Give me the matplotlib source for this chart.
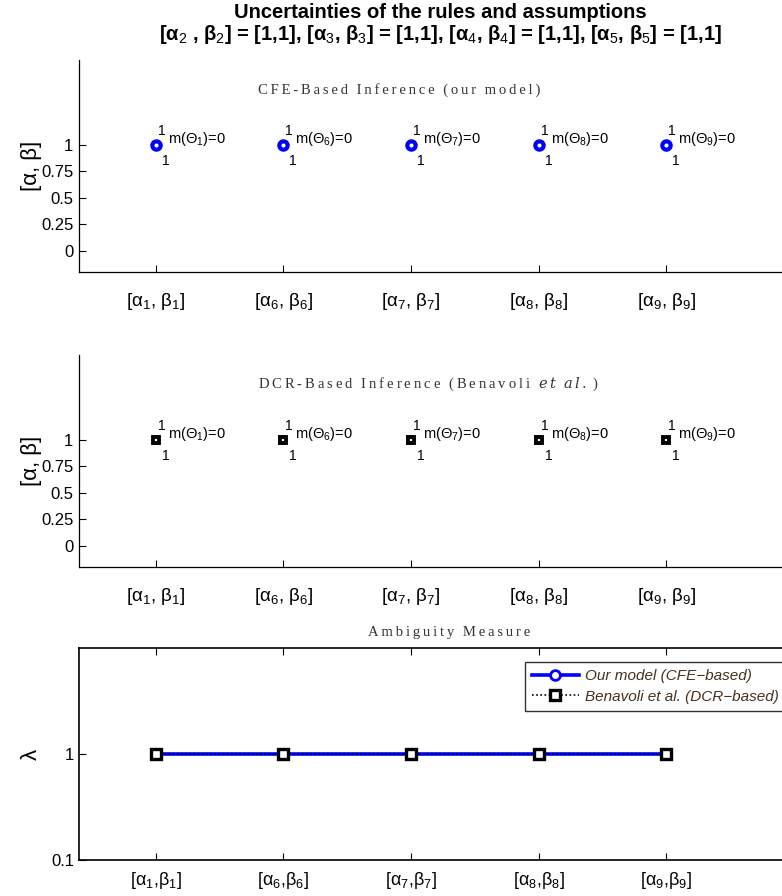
import matplotlib
matplotlib.use("Agg")
import matplotlib.pyplot as plt
import numpy as np

plt.rcParams['font.family'] = ['Liberation Sans', 'DejaVu Sans']
plt.rcParams['mathtext.fontset'] = 'custom'
plt.rcParams['mathtext.rm'] = 'Liberation Sans'
plt.rcParams['mathtext.it'] = 'Liberation Sans:italic'
plt.rcParams['mathtext.bf'] = 'Liberation Sans:bold'

# ---------------- data ----------------
rule_ids = [1, 6, 7, 8, 9]
top_labels = ['[α$_{%d}$, β$_{%d}$]' % (i, i) for i in rule_ids]
bottom_labels = ['[α$_{%d}$,β$_{%d}$]' % (i, i) for i in rule_ids]
cfe_alpha = [1, 1, 1, 1, 1]
cfe_beta = [1, 1, 1, 1, 1]
cfe_mass = [0, 0, 0, 0, 0]
dcr_alpha = [1, 1, 1, 1, 1]
dcr_beta = [1, 1, 1, 1, 1]
dcr_mass = [0, 0, 0, 0, 0]
lambda_cfe = [1, 1, 1, 1, 1]
lambda_dcr = [1, 1, 1, 1, 1]
y_ticks_ab = [0, 0.25, 0.5, 0.75, 1]
y_tick_labels_ab = ['0', '0.25', '0.5', '0.75', '1']

title_text = ('Uncertainties of the rules and assumptions\n'
              '[α$_2$ , β$_2$] = [1,1], [α$_3$, β$_3$] = [1,1], '
              '[α$_4$, β$_4$] = [1,1], [α$_5$, β$_5$] = [1,1]')

W, H = 782, 896
fig = plt.figure(figsize=(W / 100, H / 100), dpi=100)

xs = np.arange(1, len(rule_ids) + 1)
ax_left = 79 / W
ax_w = 715 / W
ax_h = 212 / H


def spaced(s):
    out = []
    for w in s.split(' '):
        out.append('\u2009'.join(list(w)))
    return '\u2009\u2009\u2009'.join(out)


def setup_top(ax):
    ax.set_xlim(0.4, 6.0)
    ax.set_ylim(-0.2, 1.8)
    ax.spines['top'].set_visible(False)
    ax.spines['right'].set_visible(False)
    ax.set_xticks(xs)
    ax.set_xticklabels(top_labels, fontsize=13.5)
    ax.set_yticks(y_ticks_ab)
    ax.set_yticklabels(y_tick_labels_ab, fontsize=12)
    ax.tick_params(direction='in', length=5, width=0.8)
    ax.tick_params(axis='x', pad=14)
    ax.tick_params(axis='y', pad=4)
    ax.set_ylabel('[α, β]', fontsize=16, labelpad=-1)
    for sp in ax.spines.values():
        sp.set_linewidth(0.9)


def annotate_points(ax, alphas, betas, masses):
    for x, a, b, m, rid in zip(xs, alphas, betas, masses, rule_ids):
        y = (a + b) / 2
        ax.annotate('%g' % a, (x, y), xytext=(2, 10), textcoords='offset pixels',
                    fontsize=10, va='baseline', ha='left')
        ax.annotate('m(Θ$_{%d}$)=%g' % (rid, m), (x, y), xytext=(12, 2),
                    textcoords='offset pixels', fontsize=10.5, va='baseline', ha='left')
        ax.annotate('%g' % b, (x, y), xytext=(6, -20), textcoords='offset pixels',
                    fontsize=10, va='baseline', ha='left')


# ---------------- top panel ----------------
ax1 = fig.add_axes([ax_left, 1 - 272 / H, ax_w, ax_h])
setup_top(ax1)
ax1.plot(xs, [(a + b) / 2 for a, b in zip(cfe_alpha, cfe_beta)], linestyle='none',
         marker='o', markersize=6, markeredgewidth=3.0, color='#0000ff',
         markerfacecolor='white', clip_on=False)
annotate_points(ax1, cfe_alpha, cfe_beta, cfe_mass)
ax1.text(1.80, 1.52, spaced('CFE-Based Inference (our model)'), fontsize=10.5,
         family=['Liberation Serif', 'DejaVu Serif'], color='#333333', va='center', ha='left')
fig.text(440 / W, 1 - 3 / H, title_text, ha='center', va='top', fontsize=14.5,
         fontweight='bold', linespacing=1.05)

# ---------------- middle panel ----------------
ax2 = fig.add_axes([ax_left, 1 - 567 / H, ax_w, ax_h])
setup_top(ax2)
ax2.plot(xs, [(a + b) / 2 for a, b in zip(dcr_alpha, dcr_beta)], linestyle='none',
         marker='s', markersize=4.8, markeredgewidth=2.8, color='black',
         markerfacecolor='white', clip_on=False)
annotate_points(ax2, dcr_alpha, dcr_beta, dcr_mass)
ax2.text(1.80, 1.52, spaced('DCR-Based Inference (Benavoli') + '\u2009\u2009\u2009'
         + r'$\mathit{e\,t}$' + '\u2009\u2009\u2009' + r'$\mathit{a\,l\,.}$' + '\u2009)',
         fontsize=10.5, family=['Liberation Serif', 'DejaVu Serif'],
         math_fontfamily='dejavuserif', color='#333333', va='center', ha='left')

# ---------------- bottom panel ----------------
ax3 = fig.add_axes([ax_left, 1 - 860 / H, ax_w, ax_h])
ax3.set_yscale('log')
ax3.set_xlim(0.4, 6.0)
ax3.set_ylim(0.1, 10)
ax3.plot(xs, lambda_cfe, color='#0000ff', linewidth=2.6, marker='o', markersize=7,
         markeredgewidth=2.0, markerfacecolor='white', label='Our model (CFE\u2212based)',
         clip_on=False, zorder=3)
ax3.plot(xs, lambda_dcr, color='black', linewidth=1.2, linestyle=(0, (1, 1.5)),
         marker='s', markersize=6.5, markeredgewidth=2.4, markerfacecolor='white',
         label='Benavoli et al. (DCR\u2212based)', clip_on=False, zorder=4)
ax3.set_xticks(xs)
ax3.set_xticklabels(bottom_labels, fontsize=13)
ax3.set_yticks([0.1, 1])
ax3.set_yticklabels(['0.1', '1'], fontsize=12)
ax3.yaxis.set_minor_locator(matplotlib.ticker.NullLocator())
ax3.tick_params(direction='in', length=5, width=0.8, top=True)
ax3.tick_params(axis='x', pad=7)
ax3.set_ylabel('λ', fontsize=16, rotation=90, labelpad=7)
for sp in ax3.spines.values():
    sp.set_linewidth(1.2)
ax3.text(0.517, 1.075, spaced('Ambiguity Measure'), transform=ax3.transAxes,
         fontsize=10.5, family=['Liberation Serif', 'DejaVu Serif'], color='#333333',
         ha='center', va='center')
leg = ax3.legend(loc='upper right', bbox_to_anchor=(786 / W, 1 - 662 / H),
                 bbox_transform=fig.transFigure, fontsize=11, frameon=True,
                 fancybox=False, handlelength=3.1, borderpad=0.45, labelspacing=0.45,
                 handletextpad=0.4, borderaxespad=0)
leg.get_frame().set_edgecolor('black')
leg.get_frame().set_linewidth(1.0)
for t in leg.get_texts():
    t.set_fontstyle('italic')
    t.set_color('#45301f')

fig.savefig('out.png', dpi=100)
